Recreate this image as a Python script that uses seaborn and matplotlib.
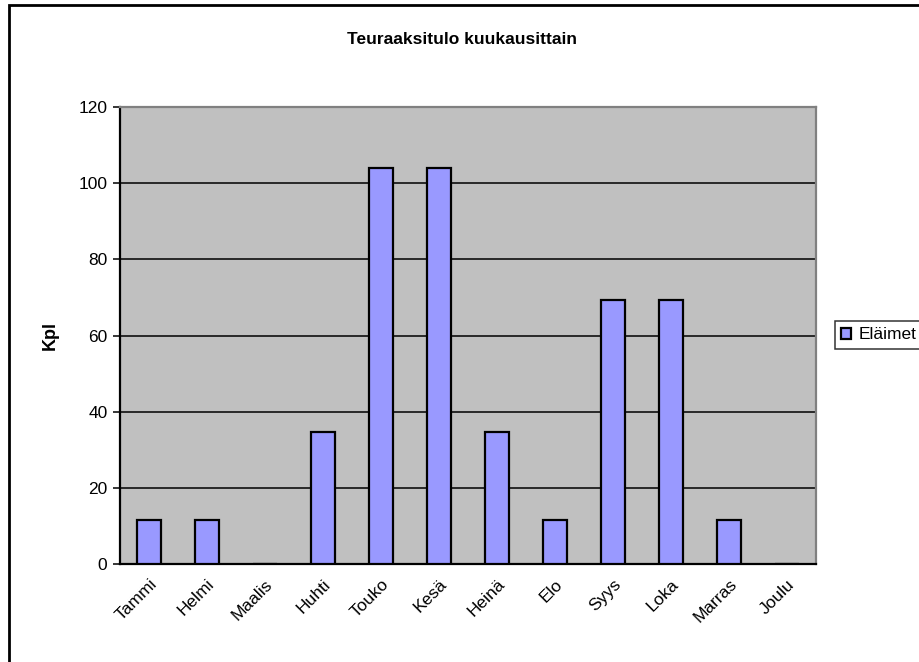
import matplotlib
matplotlib.use('Agg')
import matplotlib.pyplot as plt
import seaborn as sns
import pandas as pd
from matplotlib.patches import Rectangle

months = ['Tammi', 'Helmi', 'Maalis', 'Huhti', 'Touko', 'Kesä',
          'Heinä', 'Elo', 'Syys', 'Loka', 'Marras', 'Joulu']
elaimet = [11.5, 11.5, 0, 34.6, 104, 104, 34.6, 11.5, 69.3, 69.3, 11.5, 0]
yticks = [0, 20, 40, 60, 80, 100, 120]

df = pd.DataFrame({'Kuukausi': months, 'Kpl': elaimet})

sns.set_style("white")
plt.rcParams['font.family'] = ['Liberation Sans', 'DejaVu Sans']
plt.rcParams['text.color'] = 'black'
plt.rcParams['axes.labelcolor'] = 'black'
plt.rcParams['xtick.color'] = 'black'
plt.rcParams['ytick.color'] = 'black'

fig = plt.figure(figsize=(9.2, 6.62), dpi=100)
ax = fig.add_axes([120 / 920, 1 - 564 / 662, 696 / 920, 457 / 662])
ax.set_facecolor('#C0C0C0')

sns.barplot(data=df, x='Kuukausi', y='Kpl', color='#9999FF', edgecolor='black',
            linewidth=1.6, width=0.41, saturation=1, label='Eläimet', ax=ax, zorder=3)
handles, labels = ax.get_legend_handles_labels()
if ax.get_legend() is not None:
    ax.get_legend().remove()

ax.set_ylim(0, 120)
ax.set_xlim(-0.5, 11.5)
ax.set_yticks(yticks)
ax.set_yticklabels([str(v) for v in yticks], fontsize=12.5)
ax.yaxis.grid(True, color='black', linewidth=1.1)
ax.set_axisbelow(True)

# tick marks between categories, labels at centers
ax.set_xticks(range(len(months)))
ax.set_xticklabels(months, rotation=45, ha='right', rotation_mode='anchor', fontsize=12.5)
ax.tick_params(axis='x', which='major', length=0, pad=9)
ax.set_xticks([i - 0.5 for i in range(len(months) + 1)], minor=True)
ax.tick_params(axis='x', which='minor', length=5, width=1.1, color='black', direction='out')
ax.tick_params(axis='y', length=5, width=1.1, color='black', direction='out', left=True, pad=4)

for s in ['left', 'bottom']:
    ax.spines[s].set_color('black')
    ax.spines[s].set_linewidth(1.6)
for s in ['top', 'right']:
    ax.spines[s].set_color('#808080')
    ax.spines[s].set_linewidth(1.6)

ax.set_xlabel('')
ax.set_ylabel('Kpl', fontsize=13, fontweight='bold', labelpad=14)

fig.text(462 / 920, 1 - 40 / 662, 'Teuraaksitulo kuukausittain', ha='center', va='center',
         fontsize=12.5, fontweight='bold')

leg = fig.legend(handles[:1], labels[:1], loc='center left',
                 bbox_to_anchor=(835 / 920, 1 - 335 / 662), frameon=True, fancybox=False,
                 edgecolor='black', fontsize=12.5, handlelength=0.6, handleheight=0.6,
                 handletextpad=0.4, borderpad=0.35, borderaxespad=0)
leg.get_frame().set_linewidth(1.1)

# outer chart border
fig.patches.append(Rectangle((9 / 920, -0.1), 1.0, 1 - 5 / 662 + 0.1, transform=fig.transFigure,
                             fill=False, edgecolor='black', linewidth=2, zorder=0))

fig.savefig('out.png', dpi=100)
